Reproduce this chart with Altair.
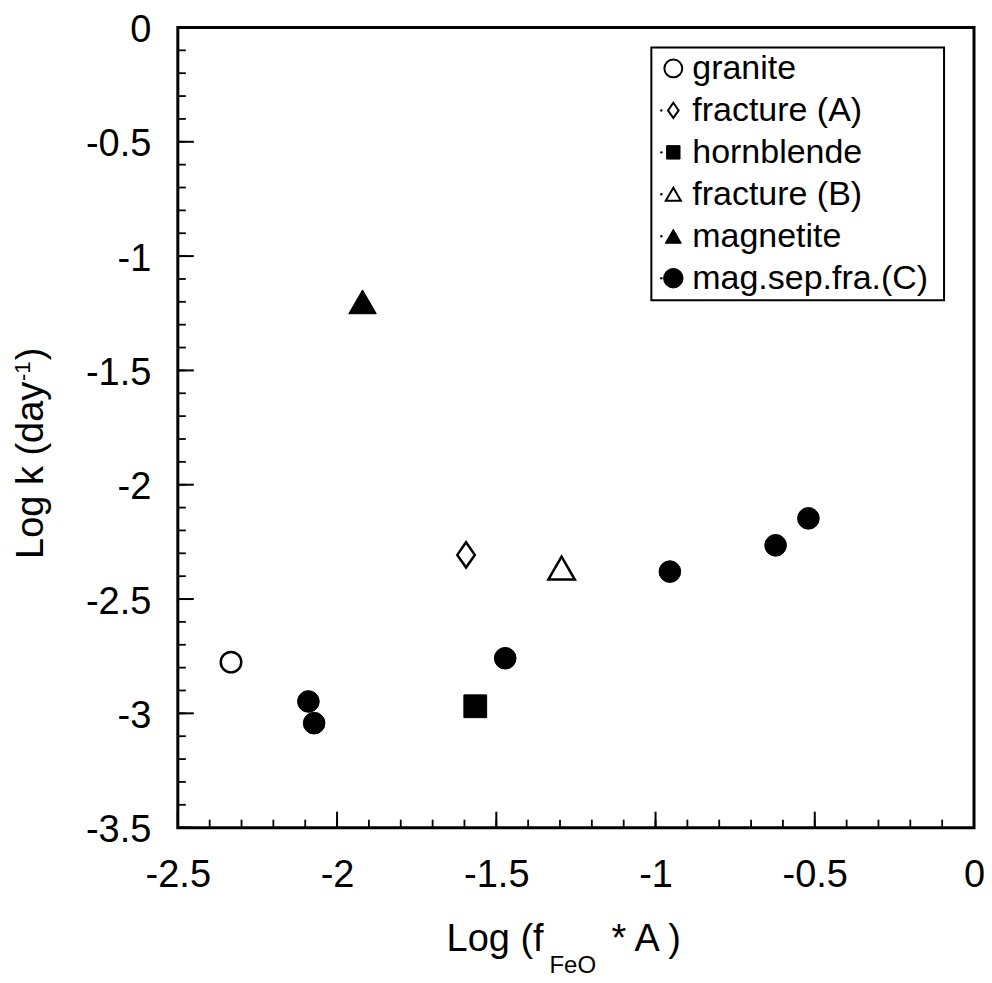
import altair as alt
import pandas as pd

# ---- data ----
granite_x = [-2.333]
granite_y = [-2.776]
fracA_x = [-1.595]
fracA_y = [-2.307]
horn_x = [-1.566]
horn_y = [-2.969]
fracB_x = [-1.295]
fracB_y = [-2.365]
magn_x = [-1.920]
magn_y = [-1.200]
magsep_x = [-2.090, -2.072, -1.472, -0.955, -0.623, -0.520]
magsep_y = [-2.948, -3.043, -2.759, -2.380, -2.265, -2.147]

legend_labels = ["granite", "fracture (A)", "hornblende", "fracture (B)", "magnetite", "mag.sep.fra.(C)"]
x_major = [-2.5, -2.0, -1.5, -1.0, -0.5, 0.0]
y_major = [0.0, -0.5, -1.0, -1.5, -2.0, -2.5, -3.0, -3.5]
x_minor = [round(-2.5 + 0.1 * i, 2) for i in range(26)]
y_minor = [round(-0.1 * i, 2) for i in range(36)]

W, H = 797, 801
FONT = "Liberation Sans"

xs = alt.Scale(domain=[-2.5, 0], nice=False, zero=False)
ys = alt.Scale(domain=[-3.5, 0], nice=False, zero=False)

AX = alt.Axis(values=x_major, labelExpr="toString(datum.value)", domain=False, ticks=False, grid=False,
              labelFont=FONT, labelFontSize=38, labelColor="black",
              labelPadding=29, labelFlush=False, labelOverlap=False, labelBound=False)
AY = alt.Axis(values=y_major, labelExpr="toString(datum.value)", domain=False, ticks=False, grid=False,
              labelFont=FONT, labelFontSize=38, labelColor="black", labelOffset=3,
              labelPadding=27, labelFlush=False, labelOverlap=False, labelBound=False)

X = alt.X("x:Q", scale=xs, axis=AX, title=None)
Y = alt.Y("y:Q", scale=ys, axis=AY, title=None)

def df(xv, yv):
    return pd.DataFrame({"x": xv, "y": yv})

# inward ticks
xmaj = alt.Chart(pd.DataFrame({"x": x_major})).mark_rule(color="black", strokeWidth=2).encode(
    x=X, y=alt.value(H), y2=alt.value(H - 16))
xmin = alt.Chart(pd.DataFrame({"x": x_minor})).mark_rule(color="black", strokeWidth=1.8).encode(
    x=X, y=alt.value(H), y2=alt.value(H - 8))
ymaj = alt.Chart(pd.DataFrame({"y": y_major})).mark_rule(color="black", strokeWidth=2).encode(
    y=Y, x=alt.value(0), x2=alt.value(16))
ymin = alt.Chart(pd.DataFrame({"y": y_minor})).mark_rule(color="black", strokeWidth=1.8).encode(
    y=Y, x=alt.value(0), x2=alt.value(8))

diamond = "M0,-1.3L0.9,0L0,1.3L-0.9,0Z"

p_gran = alt.Chart(df(granite_x, granite_y)).mark_point(
    shape="circle", size=420, filled=True, fill="white", stroke="black", strokeWidth=2.5, opacity=1).encode(x=X, y=Y)
p_fa = alt.Chart(df(fracA_x, fracA_y)).mark_point(
    shape=diamond, size=380, filled=True, fill="white", stroke="black", strokeWidth=2.5, opacity=1).encode(x=X, y=Y)
p_horn = alt.Chart(df(horn_x, horn_y)).mark_point(
    shape="square", size=520, filled=True, fill="black", stroke="black", strokeWidth=1, opacity=1).encode(x=X, y=Y)
p_fb = alt.Chart(df(fracB_x, fracB_y)).mark_point(
    shape="triangle-up", size=700, filled=True, fill="white", stroke="black", strokeWidth=2.5, opacity=1).encode(x=X, y=Y)
p_mag = alt.Chart(df(magn_x, magn_y)).mark_point(
    shape="triangle-up", size=760, filled=True, fill="black", stroke="black", strokeWidth=1, opacity=1).encode(x=X, y=Y)
p_ms = alt.Chart(df(magsep_x, magsep_y)).mark_point(
    shape="circle", size=470, filled=True, fill="black", stroke="black", strokeWidth=1, opacity=1).encode(x=X, y=Y)

# legend (manual)
LX0, LX1, LY0, LY1 = 474, 767, 20, 273
leg_box = alt.Chart(pd.DataFrame({"a": [0]})).mark_rect(fill="white", stroke="black", strokeWidth=2).encode(
    x=alt.value(LX0), x2=alt.value(LX1), y=alt.value(LY0), y2=alt.value(LY1))

leg_styles = [
    dict(shape="circle", size=320, fill="white", strokeWidth=2),
    dict(shape=diamond, size=140, fill="white", strokeWidth=2),
    dict(shape="square", size=180, fill="black", strokeWidth=1),
    dict(shape="triangle-up", size=230, fill="white", strokeWidth=2),
    dict(shape="triangle-up", size=260, fill="black", strokeWidth=1),
    dict(shape="circle", size=380, fill="black", strokeWidth=1),
]
leg_layers = []
for i, (lab, st) in enumerate(zip(legend_labels, leg_styles)):
    ly = 41 + 42 * i
    d = alt.Data(values=[{"label": lab}])
    if i > 0:
        leg_layers.append(alt.Chart(d).mark_point(shape="circle", size=6, filled=True, fill="black", opacity=1).encode(
            x=alt.value(484), y=alt.value(ly)))
    leg_layers.append(alt.Chart(d).mark_point(shape=st["shape"], size=st["size"], filled=True, fill=st["fill"],
                                               stroke="black", strokeWidth=st["strokeWidth"], opacity=1).encode(
        x=alt.value(496), y=alt.value(ly)))
    leg_layers.append(alt.Chart(d).mark_text(font=FONT, fontSize=34, align="left", baseline="middle", color="black").encode(
        x=alt.value(515), y=alt.value(ly + 1), text="label:N"))

# titles with sub/superscripts
def txt(s, x, y, size, angle=0, align="left", baseline="alphabetic"):
    kw = dict(font=FONT, fontSize=size, align=align, baseline=baseline, color="black")
    if angle:
        kw["angle"] = angle
    return alt.Chart(alt.Data(values=[{"t": s}])).mark_text(**kw).encode(
        x=alt.value(x), y=alt.value(y), text="t:N")

titles = [
    txt("Log (f", 269, 924, 38),
    txt("FeO", 372, 946, 24),
    txt("* A )", 434, 924, 38),
    txt("Log k (day", -135, 532, 38, angle=270),
    txt("-1", -148, 354, 22, angle=270),
    txt(")", -135, 333, 38, angle=270),
]

chart = alt.layer(xmaj, xmin, ymaj, ymin, p_gran, p_fa, p_horn, p_fb, p_mag, p_ms,
                  leg_box, *leg_layers, *titles).properties(
    width=W, height=H,
    background="white",
    autosize=alt.AutoSizeParams(type="none"),
    padding={"left": 170, "top": 19, "right": 10, "bottom": 154},
).configure_view(stroke="black", strokeWidth=3)

chart.save("out.html", embed_options={"renderer": "svg", "actions": False})
